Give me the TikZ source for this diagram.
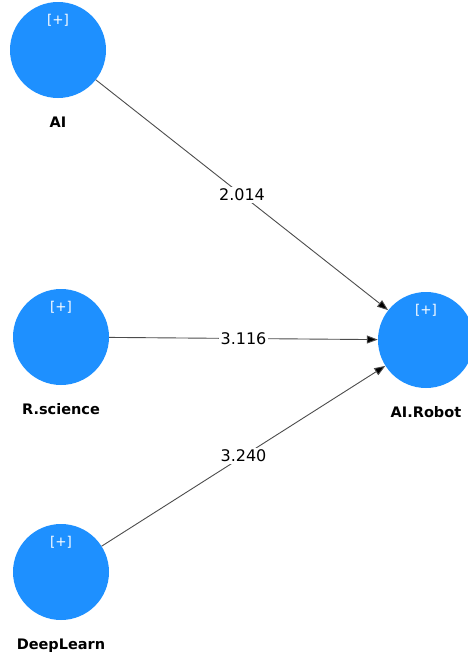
\documentclass[tikz,border=0pt]{standalone}
\usepackage{fontspec}
\setmainfont{DejaVu Sans}
\usetikzlibrary{arrows.meta}
\definecolor{lvblue}{RGB}{30,144,255}
\begin{document}
\begin{tikzpicture}[
        x=1pt, y=-1pt,
        font=\fontsize{13}{15}\selectfont
    ]
    \tikzset{
        lv/.style = {circle, fill=lvblue, draw=none, minimum size=96pt, inner sep=0pt},
        plusmark/.style = {white, yshift=30pt, font=\fontsize{13.5}{15}\selectfont},
        lvname/.style = {font=\fontsize{14.5}{16}\selectfont\bfseries, label distance=15pt},
        edgep/.style = {-{Triangle[length=11pt,width=8pt]}, line width=0.9pt, draw=black!70},
        coef/.style = {fill=white, inner sep=2pt, font=\fontsize{16}{18}\selectfont},
    }
    \useasboundingbox (0,0) rectangle (468,659);
    \node[lv, label={[plusmark]center:{[+]}}, label={[lvname]below:AI}] at (58,50) (ai) {};
    \node[lv, label={[plusmark]center:{[+]}}, label={[lvname]below:R.science}] at (61,337) (rs) {};
    \node[lv, label={[plusmark]center:{[+]}}, label={[lvname]below:DeepLearn}] at (61,572) (dl) {};
    \node[lv, label={[plusmark]center:{[+]}}, label={[lvname]below:AI.Robot}] at (426,340) (rob) {};
    %
    \draw[edgep] (ai) edge node[coef] {2.014} (rob);
    \draw[edgep] (rs) edge node[coef] {3.116} (rob);
    \draw[edgep] (dl) edge node[coef] {3.240} (rob);
\end{tikzpicture}
\end{document}
